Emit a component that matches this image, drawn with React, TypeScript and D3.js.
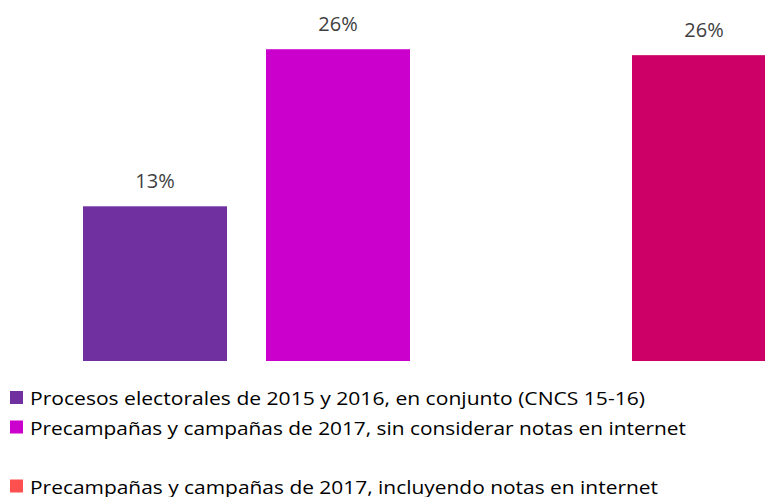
import React from 'react';
import { scaleBand, scaleLinear } from 'd3';

const width = 765;
const height = 497;

// series shown as bars (one bar per series, no x categories)
const seriesNames = [
  'Procesos electorales de 2015 y 2016, en conjunto (CNCS 15-16)',
  'Precampañas y campañas de 2017, sin considerar notas en internet',
  'Precampañas y campañas de 2017, incluyendo notas en internet',
  'Precampañas y campañas de 2017, total',
];
const seriesValues: (number | null)[] = [13.0, 26.2, null, 25.7];
const seriesLabels = ['13%', '26%', '', '26%'];
const seriesColors = ['#7030A0', '#CC00CC', '#FF5050', '#CC0066'];
// which legend rows are visible (row index per series, -1 = not shown)
const legendRows = [0, 1, 3, -1];
const legendWidths = [615, 656, 628, 0];

export default function App() {
  const step = 183;
  const pad = 39 / step;
  const x = scaleBand<string>()
    .domain(seriesNames)
    .range([63.5, 63.5 + step * seriesNames.length])
    .paddingInner(pad)
    .paddingOuter(pad / 2);
  const y = scaleLinear().domain([0, 30]).range([361, 4]);

  return (
    <svg
      width={width}
      height={height}
      style={{ position: 'fixed', left: 0, top: 0, background: '#fff' }}
      fontFamily="'Open Sans', 'Noto Sans', sans-serif"
    >
      {seriesNames.map((name, i) => {
        const v = seriesValues[i];
        if (v == null) return null;
        const bx = x(name) as number;
        return (
          <g key={name}>
            <rect
              x={bx}
              y={y(v)}
              width={x.bandwidth()}
              height={y(0) - y(v)}
              fill={seriesColors[i]}
            />
            <text
              x={bx + x.bandwidth() / 2}
              y={y(v) - 18}
              textAnchor="middle"
              fontSize={20}
              fill="#404040"
            >
              {seriesLabels[i]}
            </text>
          </g>
        );
      })}
      {seriesNames.map((name, i) => {
        const row = legendRows[i];
        if (row < 0) return null;
        const base = 405 + row * 29.5;
        return (
          <g key={'lg' + name}>
            <rect x={10} y={base - 14} width={13} height={13} fill={seriesColors[i]} />
            <text
              x={30}
              y={base}
              fontSize={19}
              fill="#000"
              textLength={legendWidths[i]}
              lengthAdjust="spacingAndGlyphs"
            >
              {name}
            </text>
          </g>
        );
      })}
    </svg>
  );
}
